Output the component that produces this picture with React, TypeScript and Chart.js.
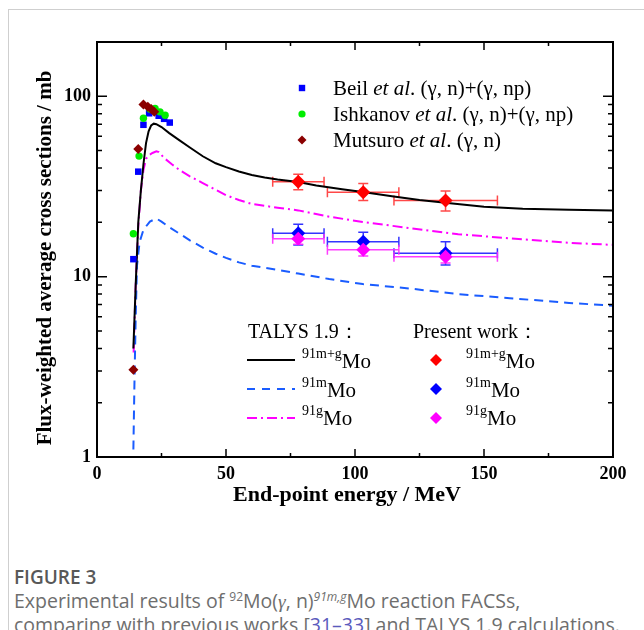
import React, { useEffect, useRef } from 'react';
import { Chart, registerables } from 'chart.js';

Chart.register(...registerables);

// ---- TALYS 1.9 calculations ----
const talysMGEnergy = [14.1, 15, 16, 17, 18, 19, 20, 21, 22, 23, 25, 28, 32, 36, 41, 46, 50, 55, 60, 65, 70, 78, 85, 95, 103, 115, 125, 135, 150, 165, 183, 200];
const talysMGValue = [4.0, 9, 20, 30, 42, 55, 64, 69, 70.5, 70, 67.5, 62.5, 57, 52, 46.5, 42.5, 40.5, 38.3, 36.6, 35.5, 34.6, 33.5, 32, 30.5, 29.5, 27.8, 26.6, 25.7, 24.4, 23.8, 23.5, 23.3];

const talysMEnergy = [14.1, 14.5, 15, 15.5, 16.5, 18, 20.5, 23, 25, 28, 32, 36, 41, 46, 50, 55, 60, 70, 78, 90, 103, 121, 140, 160, 183, 200];
const talysMValue = [1.1, 2.5, 6, 11.5, 15.5, 18.2, 20.2, 21, 20.2, 18.8, 17.3, 15.9, 14.5, 13.4, 12.7, 12.0, 11.5, 10.9, 10.4, 9.7, 9.1, 8.6, 8.0, 7.6, 7.15, 6.9];

const talysGEnergy = [14.2, 15, 16, 17, 18, 19, 20, 21.5, 23, 24, 26, 29, 32, 36, 41, 46, 50, 55, 60, 70, 78, 90, 103, 121, 140, 160, 183, 200];
const talysGValue = [3.8, 9, 19, 30, 39, 45, 47, 48.5, 49.5, 49, 45.5, 42, 39, 36, 33, 30.3, 28.3, 26.6, 25.3, 24.1, 23.3, 21.5, 20.1, 18.6, 17.2, 16.3, 15.4, 15.0];

// ---- previous works ----
const beilEnergy = [14.1, 16.0, 18.0, 20.2, 22.0, 23.9, 26.0, 28.2];
const beilValue = [12.5, 38.2, 69.5, 80.5, 84, 78, 75, 71.5];
const ishkanovEnergy = [14.1, 16.3, 18.0, 20.5, 22.5, 24.4, 26.4];
const ishkanovValue = [17.3, 46.6, 75.5, 85, 85.5, 82, 78.5];
const mutsuroEnergy = [14.1, 16.0, 18.0, 19.7, 21.0, 22.2];
const mutsuroValue = [3.05, 51, 90, 87.5, 85, 82];

// ---- present work ----
const presentEnergy = [78.0, 103.2, 135.1];
const presentEnergyLow = [68.1, 89.3, 115.1];
const presentEnergyHigh = [88.0, 117.0, 155.2];
const presentMGValue = [33.6, 29.4, 26.4];
const presentMGLow = [30.3, 26.4, 23.1];
const presentMGHigh = [37.0, 32.8, 29.8];
const presentMValue = [17.4, 15.6, 13.5];
const presentMLow = [15.0, 14.1, 11.6];
const presentMHigh = [19.5, 17.6, 15.6];
const presentGValue = [16.2, 14.1, 12.9];
const presentGLow = [15.1, 13.0, 11.9];
const presentGHigh = [17.4, 15.3, 13.9];

// ---- axis ----
const xMin = 0;
const xMax = 200;
const xMajorStep = 50;
const xMinorStep = 25;
const yMin = 1;
const yMax = 200;
const yLabelValues = [1, 10, 100];

const SERIF = '"Liberation Serif", "Times New Roman", serif';

const toPts = (xs: number[], ys: number[]) => xs.map((x, i) => ({ x, y: ys[i] }));

function drawDiamond(ctx: CanvasRenderingContext2D, x: number, y: number, r: number, color: string) {
  ctx.beginPath();
  ctx.moveTo(x - r, y);
  ctx.lineTo(x, y - r);
  ctx.lineTo(x + r, y);
  ctx.lineTo(x, y + r);
  ctx.closePath();
  ctx.fillStyle = color;
  ctx.fill();
}

function drawIso(ctx: CanvasRenderingContext2D, x: number, base: number, sup: string, main: string) {
  ctx.fillStyle = '#000';
  ctx.textAlign = 'left';
  ctx.textBaseline = 'alphabetic';
  ctx.font = `14px ${SERIF}`;
  ctx.fillText(sup, x, base - 10);
  const w = ctx.measureText(sup).width;
  ctx.font = `21px ${SERIF}`;
  ctx.fillText(main, x + w, base);
}

function drawRich(ctx: CanvasRenderingContext2D, x: number, base: number, segs: { t: string; f: string }[]) {
  ctx.fillStyle = '#000';
  ctx.textAlign = 'left';
  ctx.textBaseline = 'alphabetic';
  let cx = x;
  for (const s of segs) {
    ctx.font = s.f;
    ctx.fillText(s.t, cx, base);
    cx += ctx.measureText(s.t).width;
  }
}

export default function App() {
  const ref = useRef<HTMLCanvasElement | null>(null);

  useEffect(() => {
    const canvas = ref.current;
    if (!canvas) return;

    const errorSets = [
      { color: 'rgba(255,40,40,0.85)', y: presentMGValue, lo: presentMGLow, hi: presentMGHigh },
      { color: 'rgba(30,30,255,0.9)', y: presentMValue, lo: presentMLow, hi: presentMHigh },
      { color: 'rgba(255,40,255,0.9)', y: presentGValue, lo: presentGLow, hi: presentGHigh },
    ];

    const errorPlugin = {
      id: 'errbars',
      beforeDatasetsDraw(chart: any) {
        const { ctx } = chart;
        const xs = chart.scales.x;
        const ys = chart.scales.y;
        ctx.save();
        ctx.lineWidth = 1.5;
        const cap = 5;
        errorSets.forEach((set) => {
          ctx.strokeStyle = set.color;
          presentEnergy.forEach((e, i) => {
            const px = xs.getPixelForValue(e);
            const py = ys.getPixelForValue(set.y[i]);
            const x1 = xs.getPixelForValue(presentEnergyLow[i]);
            const x2 = xs.getPixelForValue(presentEnergyHigh[i]);
            const y1 = ys.getPixelForValue(set.lo[i]);
            const y2 = ys.getPixelForValue(set.hi[i]);
            ctx.beginPath();
            ctx.moveTo(x1, py); ctx.lineTo(x2, py);
            ctx.moveTo(x1, py - cap); ctx.lineTo(x1, py + cap);
            ctx.moveTo(x2, py - cap); ctx.lineTo(x2, py + cap);
            ctx.moveTo(px, y1); ctx.lineTo(px, y2);
            ctx.moveTo(px - cap, y1); ctx.lineTo(px + cap, y1);
            ctx.moveTo(px - cap, y2); ctx.lineTo(px + cap, y2);
            ctx.stroke();
          });
        });
        ctx.restore();
      },
    };

    const framePlugin = {
      id: 'frame',
      afterDraw(chart: any) {
        const { ctx, chartArea: a } = chart;
        const xs = chart.scales.x;
        const ys = chart.scales.y;
        ctx.save();
        ctx.strokeStyle = '#000';
        ctx.lineWidth = 2;
        ctx.strokeRect(a.left, a.top, a.right - a.left, a.bottom - a.top);
        ctx.lineWidth = 1.5;
        ctx.beginPath();
        for (let v = xMin; v <= xMax; v += xMinorStep) {
          const px = xs.getPixelForValue(v);
          const len = v % xMajorStep === 0 ? 8 : 4;
          ctx.moveTo(px, a.bottom); ctx.lineTo(px, a.bottom - len);
          ctx.moveTo(px, a.top); ctx.lineTo(px, a.top + len);
        }
        for (let d = 1; d < yMax; d *= 10) {
          for (let m = 1; m <= 9; m++) {
            const v = d * m;
            if (v < yMin || v > yMax) continue;
            const py = ys.getPixelForValue(v);
            const len = m === 1 ? 10 : 5;
            ctx.moveTo(a.left, py); ctx.lineTo(a.left + len, py);
            ctx.moveTo(a.right, py); ctx.lineTo(a.right - len, py);
          }
        }
        ctx.stroke();

        // axis titles
        ctx.fillStyle = '#000';
        ctx.font = `bold 22px ${SERIF}`;
        ctx.textAlign = 'center';
        ctx.textBaseline = 'middle';
        ctx.fillText('End-point energy / MeV', 347, 495);
        ctx.save();
        ctx.translate(46, 258);
        ctx.rotate(-Math.PI / 2);
        ctx.font = `bold 21px ${SERIF}`;
        ctx.fillText('Flux-weighted average cross sections / mb', 0, 0);
        ctx.restore();

        // top legend (previous works)
        const lx = 302;
        const tx = 333;
        const rowMark = [88, 114, 140];
        const rowBase = [95, 121, 147];
        const nf = `21px ${SERIF}`;
        const itf = `italic 21px ${SERIF}`;
        ctx.fillStyle = '#0000ff';
        ctx.fillRect(lx - 3.2, rowMark[0] - 3.2, 6.4, 6.4);
        ctx.beginPath();
        ctx.arc(lx, rowMark[1], 3.6, 0, Math.PI * 2);
        ctx.fillStyle = '#00ee00';
        ctx.fill();
        drawDiamond(ctx, lx, rowMark[2], 4.5, '#8b0000');
        drawRich(ctx, tx, rowBase[0], [{ t: 'Beil ', f: nf }, { t: 'et al', f: itf }, { t: '. (γ, n)+(γ, np)', f: nf }]);
        drawRich(ctx, tx, rowBase[1], [{ t: 'Ishkanov ', f: nf }, { t: 'et al', f: itf }, { t: '. (γ, n)+(γ, np)', f: nf }]);
        drawRich(ctx, tx, rowBase[2], [{ t: 'Mutsuro ', f: nf }, { t: 'et al', f: itf }, { t: '. (γ, n)', f: nf }]);

        // bottom legend
        drawRich(ctx, 248, 338, [{ t: 'TALYS 1.9：', f: `20px ${SERIF}` }]);
        drawRich(ctx, 413, 338, [{ t: 'Present work：', f: `20px ${SERIF}` }]);
        const lineRows = [360, 389, 418];
        const labBase = [368, 397, 425];
        ctx.lineWidth = 2;
        ctx.strokeStyle = '#000';
        ctx.setLineDash([]);
        ctx.beginPath(); ctx.moveTo(247, lineRows[0]); ctx.lineTo(295, lineRows[0]); ctx.stroke();
        ctx.strokeStyle = '#1a5cff';
        ctx.setLineDash([8, 7]);
        ctx.beginPath(); ctx.moveTo(247, lineRows[1]); ctx.lineTo(295, lineRows[1]); ctx.stroke();
        ctx.strokeStyle = '#ff00ff';
        ctx.setLineDash([10, 4, 2, 4]);
        ctx.beginPath(); ctx.moveTo(247, lineRows[2]); ctx.lineTo(295, lineRows[2]); ctx.stroke();
        ctx.setLineDash([]);
        drawIso(ctx, 302, labBase[0], '91m+g', 'Mo');
        drawIso(ctx, 302, labBase[1], '91m', 'Mo');
        drawIso(ctx, 302, labBase[2], '91g', 'Mo');
        drawDiamond(ctx, 436, lineRows[0], 6, '#ff0000');
        drawDiamond(ctx, 436, lineRows[1], 6, '#0000ff');
        drawDiamond(ctx, 436, lineRows[2], 6, '#ff00ff');
        drawIso(ctx, 466, labBase[0], '91m+g', 'Mo');
        drawIso(ctx, 466, labBase[1], '91m', 'Mo');
        drawIso(ctx, 466, labBase[2], '91g', 'Mo');
        ctx.restore();
      },
    };

    const lineDs = (xs: number[], ys: number[], color: string, dash: number[]) => ({
      data: toPts(xs, ys),
      showLine: true,
      borderColor: color,
      backgroundColor: color,
      borderWidth: 2,
      borderDash: dash,
      pointRadius: 0,
      pointHoverRadius: 0,
      tension: 0,
      fill: false,
      order: 10,
    });
    const ptDs = (xs: number[], ys: number[], color: string, style: string, r: number, order: number) => ({
      data: toPts(xs, ys),
      showLine: false,
      pointStyle: style,
      pointRadius: r,
      pointHoverRadius: r,
      pointBorderWidth: 0,
      borderWidth: 0,
      backgroundColor: color,
      borderColor: color,
      order,
    });

    const chart = new Chart(canvas, {
      type: 'scatter',
      data: {
        datasets: [
          lineDs(talysMGEnergy, talysMGValue, '#000000', []),
          lineDs(talysMEnergy, talysMValue, '#1a5cff', [9, 6]),
          lineDs(talysGEnergy, talysGValue, '#ff00ff', [10, 4, 2, 4]),
          ptDs(beilEnergy, beilValue, '#0000ff', 'rect', 4.6, 7),
          ptDs(ishkanovEnergy, ishkanovValue, '#00ee00', 'circle', 3.7, 6),
          ptDs(mutsuroEnergy, mutsuroValue, '#8b0000', 'rectRot', 5, 5),
          ptDs(presentEnergy, presentMGValue, '#ff0000', 'rectRot', 7, 3),
          ptDs(presentEnergy, presentMValue, '#0000ff', 'rectRot', 7, 2),
          ptDs(presentEnergy, presentGValue, '#ff00ff', 'rectRot', 7, 1),
        ] as any,
      },
      options: {
        responsive: false,
        animation: false,
        events: [],
        layout: { padding: { left: 0, top: 42, right: 31, bottom: 0 } },
        plugins: { legend: { display: false }, tooltip: { enabled: false }, title: { display: false } },
        scales: {
          x: {
            type: 'linear',
            min: xMin,
            max: xMax,
            grid: { display: false, drawTicks: false },
            border: { display: false },
            ticks: {
              stepSize: xMajorStep,
              maxRotation: 0,
              padding: 7,
              color: '#000',
              font: { family: SERIF, size: 18, weight: 'bold' },
            },
            afterFit: (s: any) => { s.height = 63; },
          },
          y: {
            type: 'logarithmic',
            min: yMin,
            max: yMax,
            grid: { display: false, drawTicks: false },
            border: { display: false },
            ticks: {
              autoSkip: false,
              padding: 6,
              color: '#000',
              font: { family: SERIF, size: 18, weight: 'bold' },
              callback: (v: any) => {
                const n = Number(v);
                return yLabelValues.some((t) => Math.abs(t - n) < 1e-9) ? String(n) : '';
              },
            },
            afterFit: (s: any) => { s.width = 97; },
          },
        },
      } as any,
      plugins: [errorPlugin, framePlugin],
    });
    return () => chart.destroy();
  }, []);

  return (
    <div style={{ position: 'absolute', left: 0, top: 0, width: 644, height: 630, overflow: 'hidden', background: '#fff' }}>
      <div style={{ position: 'absolute', left: 8, top: 9, width: 700, height: 700, borderTop: '1px solid #cfcfcf', borderLeft: '1px solid #cfcfcf' }} />
      <canvas ref={ref} width={644} height={520} style={{ position: 'absolute', left: 0, top: 0, width: 644, height: 520 }} />
      <div style={{ position: 'absolute', left: 14, top: 565, fontFamily: '"Open Sans", sans-serif', fontSize: 19, fontWeight: 600, color: '#585858', lineHeight: '24px', whiteSpace: 'nowrap' }}>
        FIGURE 3
      </div>
      <div style={{ position: 'absolute', left: 14, top: 589, fontFamily: '"Open Sans", sans-serif', fontSize: 19.5, color: '#6e6e6e', lineHeight: '23px', whiteSpace: 'nowrap' }}>
        <div>
          Experimental results of <sup style={{ fontSize: 12, lineHeight: 0 }}>92</sup>Mo(<i style={{ fontFamily: SERIF }}>γ</i>, n)<sup style={{ fontSize: 12, lineHeight: 0, fontStyle: 'italic' }}>91m,g</sup>Mo reaction FACSs,
        </div>
        <div>
          comparing with previous works [<span style={{ color: '#5b5bbd' }}>31–33</span>] and TALYS 1.9 calculations.
        </div>
      </div>
    </div>
  );
}
